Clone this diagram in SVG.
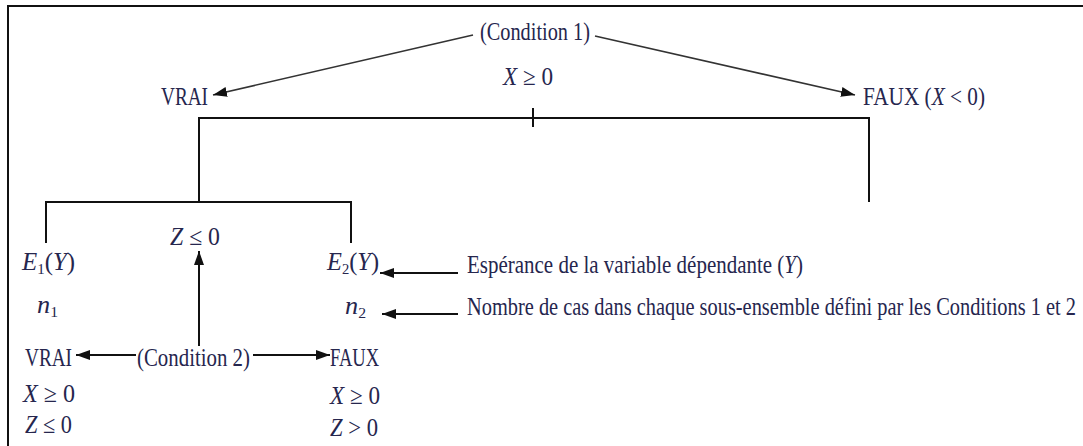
<svg xmlns="http://www.w3.org/2000/svg" width="1083" height="446" viewBox="0 0 1083 446">
<defs>
<marker id="ah" viewBox="0 0 14 10" refX="14" refY="5" markerWidth="14" markerHeight="10" markerUnits="userSpaceOnUse" orient="auto">
<path d="M0,0 L14,5 L0,10 z" fill="#111"/>
</marker>
<style>
text{font-family:"Liberation Serif","DejaVu Serif",serif;font-size:25px;fill:#26264e}
.m{font-style:italic}
.sub{font-size:15px;font-style:normal}
.ln{fill:none;stroke:#111;stroke-width:2}
.ar{fill:none;stroke:#111;stroke-width:2;marker-end:url(#ah)}
.dg{fill:none;stroke:#333;stroke-width:1.6;marker-end:url(#ah)}
</style>
</defs>
<rect width="1083" height="446" fill="#fff"/>
<g id="frame"><path class="ln" d="M8,446 L8,6 L1083,6"/></g>
<g id="connectors">
<line class="dg" x1="473" y1="35" x2="213" y2="95"/>
<line class="dg" x1="595" y1="36" x2="855" y2="95"/>
<polyline class="ln" points="199,202 199,118 869,118 869,202"/>
<line class="ln" x1="533" y1="108" x2="533" y2="127"/>
<polyline class="ln" points="46,243 46,202 351,202 351,243"/>
<line class="ar" x1="199" y1="346" x2="199" y2="251"/>
<line class="ar" x1="136" y1="355" x2="76" y2="355"/>
<line class="ar" x1="253" y1="355" x2="330" y2="355"/>
<line class="ar" x1="458" y1="273" x2="380" y2="273"/>
<line class="ar" x1="458" y1="314" x2="382" y2="314"/>
</g>
<g id="cond1"><text x="480" y="40" textLength="110" lengthAdjust="spacingAndGlyphs">(Condition 1)</text></g>
<g id="xge0-top"><text x="503" y="85" textLength="50" lengthAdjust="spacingAndGlyphs"><tspan class="m">X</tspan> ≥ 0</text></g>
<g id="vrai1"><text x="161" y="105" textLength="47" lengthAdjust="spacingAndGlyphs">VRAI</text></g>
<g id="faux1"><text x="863" y="105" textLength="122" lengthAdjust="spacingAndGlyphs">FAUX (<tspan class="m">X</tspan> &lt; 0)</text></g>
<g id="e1"><text x="22" y="270" textLength="53" lengthAdjust="spacingAndGlyphs"><tspan class="m">E</tspan><tspan class="sub" dy="4">1</tspan><tspan dy="-4">(</tspan><tspan class="m">Y</tspan>)</text></g>
<g id="zle0-top"><text x="170" y="245" textLength="50" lengthAdjust="spacingAndGlyphs"><tspan class="m">Z</tspan> ≤ 0</text></g>
<g id="e2"><text x="327" y="270" textLength="52" lengthAdjust="spacingAndGlyphs"><tspan class="m">E</tspan><tspan class="sub" dy="4">2</tspan><tspan dy="-4">(</tspan><tspan class="m">Y</tspan>)</text></g>
<g id="esperance"><text x="467" y="273" textLength="336" lengthAdjust="spacingAndGlyphs">Espérance de la variable dépendante (<tspan class="m">Y</tspan>)</text></g>
<g id="n1"><text x="37" y="313" textLength="21" lengthAdjust="spacingAndGlyphs"><tspan class="m">n</tspan><tspan class="sub" dy="4">1</tspan></text></g>
<g id="n2"><text x="345" y="314" textLength="21" lengthAdjust="spacingAndGlyphs"><tspan class="m">n</tspan><tspan class="sub" dy="4">2</tspan></text></g>
<g id="nombre"><text x="467" y="315" textLength="609" lengthAdjust="spacingAndGlyphs">Nombre de cas dans chaque sous-ensemble défini par les Conditions 1 et 2</text></g>
<g id="vrai2"><text x="25" y="366" textLength="47" lengthAdjust="spacingAndGlyphs">VRAI</text></g>
<g id="cond2"><text x="137" y="366" textLength="113" lengthAdjust="spacingAndGlyphs">(Condition 2)</text></g>
<g id="faux2"><text x="330" y="366" textLength="49" lengthAdjust="spacingAndGlyphs">FAUX</text></g>
<g id="xge0-l"><text x="23" y="402" textLength="52" lengthAdjust="spacingAndGlyphs"><tspan class="m">X</tspan> ≥ 0</text></g>
<g id="zle0-l"><text x="25" y="433" textLength="47" lengthAdjust="spacingAndGlyphs"><tspan class="m">Z</tspan> ≤ 0</text></g>
<g id="xge0-r"><text x="330" y="404" textLength="50" lengthAdjust="spacingAndGlyphs"><tspan class="m">X</tspan> ≥ 0</text></g>
<g id="zgt0-r"><text x="330" y="436" textLength="48" lengthAdjust="spacingAndGlyphs"><tspan class="m">Z</tspan> &gt; 0</text></g>
</svg>
